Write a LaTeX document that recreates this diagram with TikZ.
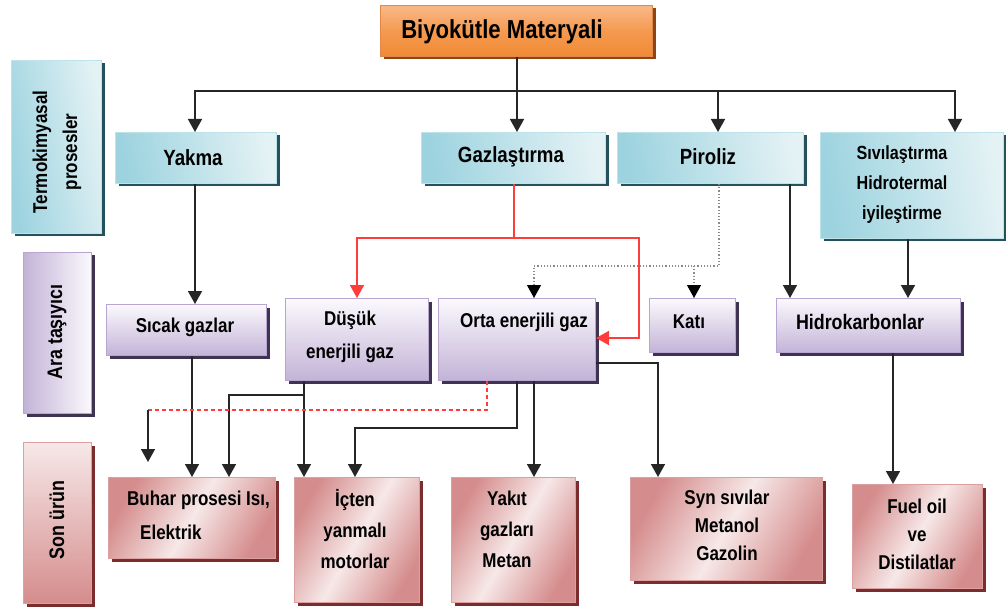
\documentclass[tikz,border=0pt]{standalone}
\usepackage{fontspec}
\setmainfont{Liberation Sans}[FakeStretch=0.85]
\usetikzlibrary{arrows.meta,shadows}
\definecolor{blueA}{HTML}{9CD3DF}
\definecolor{blueB}{HTML}{E4F2F5}
\definecolor{blueS}{HTML}{24525C}
\definecolor{blueD}{HTML}{BFE3EA}
\definecolor{purA}{HTML}{FBF9FD}
\definecolor{purB}{HTML}{C3B3D7}
\definecolor{purS}{HTML}{3E3350}
\definecolor{purD}{HTML}{B8A5D1}
\definecolor{pinkA}{HTML}{D58C8C}
\definecolor{pinkB}{HTML}{F7E8E8}
\definecolor{pinkS}{HTML}{7B2C2C}
\definecolor{pinkD}{HTML}{DDA0A0}
\definecolor{orA}{HTML}{F9B888}
\definecolor{orM}{HTML}{F49A50}
\definecolor{orB}{HTML}{F08A35}
\definecolor{orS}{HTML}{8E4515}
\definecolor{orD}{HTML}{E3884A}
\definecolor{redL}{HTML}{FF3B3B}
\definecolor{dotG}{HTML}{8A8A8A}
\tikzset{
  basebox/.style={anchor=north west, inner sep=0pt, line width=1pt},
  bluebox/.style={basebox, draw=blueD, left color=blueA, right color=blueB, shading angle=100,
    drop shadow={shadow xshift=3pt, shadow yshift=-3pt, opacity=1, fill=blueS}},
  purbox/.style={basebox, draw=purD, top color=purA, bottom color=purB,
    drop shadow={shadow xshift=3pt, shadow yshift=-3pt, opacity=1, fill=purS}},
  purside/.style={basebox, draw=purD, left color=purB, right color=purA,
    drop shadow={shadow xshift=3pt, shadow yshift=-3pt, opacity=1, fill=purS}},
  pinkbox/.style={basebox, draw=pinkD, left color=pinkA, right color=pinkA, middle color=pinkB, shading angle=60,
    drop shadow={shadow xshift=3pt, shadow yshift=-3pt, opacity=1, fill=pinkS}},
  pinkside/.style={basebox, draw=pinkD, top color=pinkB, bottom color=pinkA,
    drop shadow={shadow xshift=3pt, shadow yshift=-3pt, opacity=1, fill=pinkS}},
  orbox/.style={basebox, draw=orD, top color=orA, bottom color=orB, middle color=orM,
    drop shadow={shadow xshift=3pt, shadow yshift=-3pt, opacity=1, fill=orS}},
  txt/.style={font=\bfseries\fontsize{20}{31}\selectfont, align=center, inner sep=0pt, text=black},
  bigtxt/.style={txt, font=\bfseries\fontsize{22}{31}\selectfont},
  ln/.style={line width=1.6pt, black!85},
  arr/.style={ln, -{Triangle[width=14pt,length=13pt]}},
  redarr/.style={line width=1.8pt, redL, -{Triangle[width=14pt,length=13pt]}},
  dotarr/.style={line width=1.2pt, dotG, dotted, -{Triangle[width=14pt,length=13pt,color=black]}},
  reddash/.style={line width=1.3pt, redL, dash pattern=on 4pt off 3pt},
}
\begin{document}
\begin{tikzpicture}[x=1pt,y=-1pt]
\useasboundingbox (0,0) rectangle (1006,612);
% boxes
\node[orbox, minimum width=272pt, minimum height=51pt] (bio) at (380,5) {};
\node[bluebox, minimum width=90pt, minimum height=173pt] (termo) at (11,60) {};
\node[purside, minimum width=68pt, minimum height=161pt] (ara) at (23,252) {};
\node[pinkside, minimum width=68pt, minimum height=161pt] (son) at (23,442) {};
\node[bluebox, minimum width=161pt, minimum height=51pt] (yakma) at (115,132) {};
\node[bluebox, minimum width=184pt, minimum height=51pt] (gaz) at (421,132) {};
\node[bluebox, minimum width=186pt, minimum height=51pt] (pir) at (617,132) {};
\node[bluebox, minimum width=183pt, minimum height=106pt] (siv) at (820,132) {};
\node[purbox, minimum width=160pt, minimum height=51pt] (sicak) at (106,304) {};
\node[purbox, minimum width=143pt, minimum height=82pt] (dus) at (285,298) {};
\node[purbox, minimum width=157pt, minimum height=82pt] (orta) at (438,298) {};
\node[purbox, minimum width=86pt, minimum height=54pt] (kati) at (649,298) {};
\node[purbox, minimum width=184pt, minimum height=54pt] (hid) at (776,298) {};
\node[pinkbox, minimum width=167pt, minimum height=81pt] (buhar) at (108,477) {};
\node[pinkbox, minimum width=125pt, minimum height=125pt] (icten) at (294,477) {};
\node[pinkbox, minimum width=124pt, minimum height=125pt] (yakit) at (451,477) {};
\node[pinkbox, minimum width=192pt, minimum height=103pt] (syn) at (630,477) {};
\node[pinkbox, minimum width=130pt, minimum height=104pt] (fuel) at (852,484) {};
% texts
\node[txt, font=\bfseries\fontsize{26}{30}\selectfont] (t-bio) at (502,32) {Biyokütle Materyali};
\node[txt, rotate=90, font=\bfseries\fontsize{20}{30}\selectfont] (t-termo) at (57,152) {Termokimyasal\\prosesler};
\node[txt, rotate=90, font=\bfseries\fontsize{21}{30}\selectfont] (t-ara) at (57,332) {Ara taşıyıcı};
\node[txt, rotate=90, font=\bfseries\fontsize{21}{30}\selectfont] (t-son) at (57,520) {Son ürün};
\node[bigtxt] (t-yakma) at (193,158) {Yakma};
\node[bigtxt] (t-gaz) at (511,157) {Gazlaştırma};
\node[bigtxt] (t-pir) at (708,157) {Piroliz};
\node[txt, font=\bfseries\fontsize{19}{30}\selectfont] (t-siv) at (902,185) {Sıvılaştırma\\Hidrotermal\\iyileştirme};
\node[txt] (t-sicak) at (185,327) {Sıcak gazlar};
\node[txt, font=\bfseries\fontsize{20}{33}\selectfont] (t-dus) at (350,337) {Düşük\\enerjili gaz};
\node[txt] (t-orta) at (524,322) {Orta enerjili gaz};
\node[txt] (t-kati) at (689,322) {Katı};
\node[txt, font=\bfseries\fontsize{21}{31}\selectfont] (t-hid) at (860,322) {Hidrokarbonlar};
\node[txt, align=left, anchor=west, font=\bfseries\fontsize{20}{34}\selectfont] (t-buhar) at (127,515) {Buhar prosesi Isı,\\\hspace*{13pt}Elektrik};
\node[txt] (t-icten) at (355,529) {İçten\\yanmalı\\motorlar};
\node[txt] (t-yakit) at (507,529) {Yakıt\\gazları\\Metan};
\node[txt, font=\bfseries\fontsize{20}{28}\selectfont] (t-syn) at (727,525) {Syn sıvılar\\Metanol\\Gazolin};
\node[txt, font=\bfseries\fontsize{20}{28}\selectfont] (t-fuel) at (917,534) {Fuel oil\\ve\\Distilatlar};
% connector coordinates
\coordinate (hub) at (517,91);
\coordinate (rj) at (514,238);
\coordinate (pj) at (719,266);
\coordinate (kj) at (694,266);
\coordinate (dj) at (304,395);
\coordinate (rd) at (148,410);
\coordinate (rdend) at (148,462);
% top distribution
\draw[ln] (bio.south -| hub) -- (hub);
\draw[arr] (hub) -| (yakma.north -| 195,0);
\draw[arr] (hub) -- (gaz.north -| hub);
\draw[arr] (hub) -| (pir.north -| 718,0);
\draw[arr] (hub) -| (siv.north -| 955,0);
% Yakma
\draw[arr] (yakma.south -| 195,0) -- (sicak.north -| 195,0);
% Gazlastirma (red)
\draw[redarr] (gaz.south -| rj) -- (rj) -| (dus.north -| 357,0);
\draw[redarr] (rj) -- (639,238) |- (orta.east |- 0,338);
% Piroliz (dotted)
\draw[dotarr] (pir.south -| pj) -- (pj) -| (orta.north -| 534,0);
\draw[dotarr] (kj) -- (kati.north -| kj);
\draw[arr] (pir.south -| 790,0) -- (hid.north -| 790,0);
% Sivilastirma
\draw[arr] (siv.south -| 908,0) -- (hid.north -| 908,0);
% Hidrokarbonlar
\draw[arr] (hid.south -| 893,0) -- (fuel.north -| 893,0);
% Sicak gazlar
\draw[arr] (sicak.south -| 192,0) -- (buhar.north -| 192,0);
% Dusuk
\draw[arr] (dus.south -| dj) -- (icten.north -| dj);
\draw[arr] (dj) -| (buhar.north -| 229,0);
% Orta
\draw[reddash] (orta.south -| 487,0) |- (rd);
\draw[arr] (rd) -- (rdend);
\draw[arr] (orta.south -| 517,0) -- (517,428) -| (icten.north -| 355,0);
\draw[arr] (orta.south -| 534,0) -- (yakit.north -| 534,0);
\draw[arr] (orta.east |- 0,363) -| (syn.north -| 658,0);
\end{tikzpicture}
\end{document}
